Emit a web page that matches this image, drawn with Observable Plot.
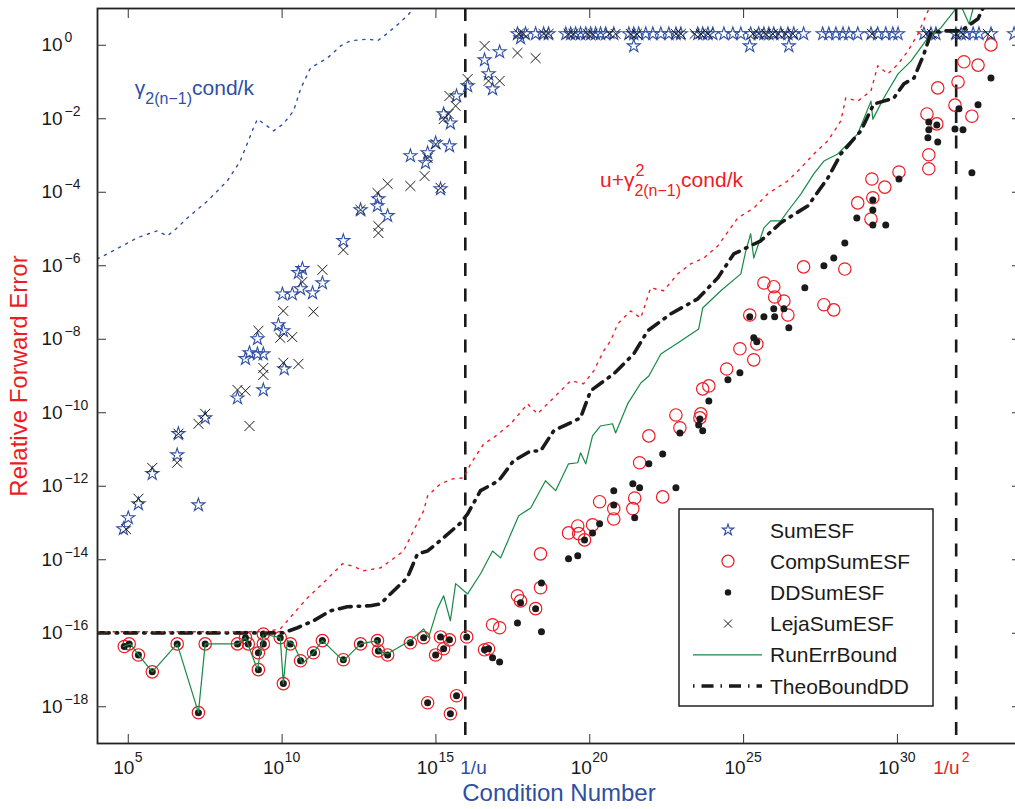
<!DOCTYPE html>
<html>
<head>
<meta charset="utf-8">
<script src="https://cdn.jsdelivr.net/npm/d3@7"></script>
<script src="https://cdn.jsdelivr.net/npm/@observablehq/plot@0.6"></script>
<style>
  body { margin: 0; background: #fff; }
  #wrap { position: relative; width: 1015px; height: 809px; overflow: hidden; background: #fff; }
</style>
</head>
<body>
<div id="wrap"></div>
<script>
const FONT = "'Liberation Sans', Arial, Helvetica, sans-serif";
const RED = "#ed1c24", BLUE = "#2f4fa3", GREEN = "#168a46", BLACK = "#1a1a1a";

// All values are [log10(condition number), log10(relative forward error)]
const sumESF = [
  [5.00,-12.86],[4.84,-13.16],[5.33,-12.48],[7.28,-12.51],[5.78,-11.66],[6.59,-11.15],[6.63,-10.57],[7.50,-10.14],
  [8.55,-9.60],[8.81,-8.53],[8.94,-8.37],[9.20,-7.99],[9.20,-8.40],[9.39,-8.40],[9.39,-9.38],[9.88,-7.61],
  [10.04,-7.77],[10.07,-8.81],[10.01,-6.77],[10.33,-6.77],[10.53,-6.19],[10.66,-6.08],[11.31,-6.47],[10.99,-6.74],
  [10.60,-6.63],[11.99,-5.32],[12.55,-4.48],[13.13,-4.18],[13.10,-4.37],[13.43,-4.64],[14.17,-3.01],[14.73,-2.93],
  [14.66,-3.20],[14.99,-2.66],[15.44,-2.74],[15.15,-3.91],[15.25,-1.87],[15.47,-2.12],[15.67,-1.38],[16.03,-1.11],
  [16.58,-0.40],[16.71,-0.78],[16.84,-1.19],[17.07,-0.18],[17.65,0.31],[17.75,0.20],[18.24,0.31],
  [17.91,0.31],[18.50,0.31],[18.66,0.31],[19.22,0.31],[19.38,0.31],[19.54,0.31],[19.70,0.31],[19.87,0.31],
  [20.03,0.31],[20.19,0.31],[20.35,0.31],[20.52,0.31],[20.78,0.31],[21.27,0.31],[21.43,0.31],[21.59,0.31],
  [21.82,0.31],[22.05,0.31],[22.31,0.31],[22.57,0.31],[22.80,0.31],[22.96,0.31],[23.51,0.31],[23.67,0.31],
  [23.84,0.31],[24.00,0.31],[24.36,0.31],[24.65,0.31],[24.91,0.31],[25.23,0.31],[25.49,0.31],[25.66,0.31],
  [25.82,0.31],[25.98,0.31],[26.21,0.31],[26.44,0.31],[26.63,0.31],[26.95,0.31],[27.57,0.31],[27.77,0.31],
  [28.00,0.31],[28.23,0.31],[28.42,0.31],[28.71,0.31],[29.14,0.31],[29.36,0.31],[29.62,0.31],[29.85,0.31],
  [30.02,0.31],[30.86,0.31],[31.09,0.31],[31.25,0.31],[31.90,0.31],[32.07,0.31],[32.23,0.31],[32.46,0.31],
  [32.65,0.31],[33.04,0.31],[33.79,0.31],
  [21.43,-0.02],[25.20,-0.02],[26.47,-0.02]
];

const compSumESF = [
  [4.87,-16.36],[5.03,-16.29],[5.33,-16.59],[5.78,-17.05],[6.59,-16.29],[7.28,-18.16],[7.50,-16.29],[8.55,-16.29],
  [8.81,-16.12],[8.90,-16.29],[9.23,-16.53],[9.23,-16.99],[9.39,-16.02],[9.39,-16.29],[9.94,-16.12],[10.04,-17.37],
  [10.27,-16.29],[10.60,-16.75],[11.02,-16.53],[11.31,-16.20],[11.99,-16.72],[12.55,-16.29],[13.10,-16.20],[13.13,-16.48],
  [13.43,-16.59],[14.17,-16.26],[14.60,-16.12],[14.73,-17.89],[15.15,-16.10],[15.44,-16.18],[15.25,-16.42],[14.99,-16.59],
  [15.67,-17.70],[15.47,-18.19],[16.00,-16.10],[16.58,-16.45],[16.71,-16.42],[16.84,-15.77],[17.07,-15.85],[17.65,-14.98],
  [17.75,-15.12],[18.24,-15.33],[18.40,-13.84],[18.40,-14.76],[19.31,-13.27],[19.61,-13.08],[19.64,-13.29],[19.83,-13.46],
  [20.09,-13.05],[20.78,-12.89],[20.78,-12.61],[21.40,-12.61],[20.32,-12.42],[21.46,-12.32],[22.37,-12.29],[21.62,-11.36],
  [21.92,-10.63],[22.80,-10.06],[22.93,-10.41],[23.61,-10.03],[23.58,-10.14],[23.67,-9.35],[23.87,-9.27],[24.45,-8.81],
  [24.88,-8.26],[25.33,-8.56],[25.43,-8.13],[25.20,-7.34],[25.66,-6.47],[25.98,-6.57],[26.01,-6.85],[26.31,-6.96],
  [26.44,-7.34],[26.95,-6.03],[28.29,-6.09],[27.61,-7.06],[27.93,-7.20],[28.71,-4.29],[29.17,-3.64],[29.59,-3.86],
  [30.05,-3.45],[29.20,-4.15],[29.14,-4.73],[30.96,-1.87],[31.28,-2.14],[31.02,-2.98],[31.02,-3.36],[31.31,-1.16],
  [31.97,-1.00],[31.87,-1.63],[32.16,-0.45],[32.62,-0.54],[32.42,-1.93],[33.04,0.01]
];

const ddSumESF = [
  [4.87,-16.36],[5.03,-16.29],[5.33,-16.59],[5.78,-17.05],[6.59,-16.29],[7.28,-18.16],[7.50,-16.29],[8.55,-16.29],
  [8.81,-16.12],[8.90,-16.29],[9.23,-16.53],[9.23,-16.99],[9.39,-16.02],[9.39,-16.29],[9.94,-16.12],[10.04,-17.37],
  [10.27,-16.29],[10.60,-16.75],[11.02,-16.53],[11.31,-16.20],[11.99,-16.72],[12.55,-16.29],[13.10,-16.20],[13.13,-16.48],
  [13.43,-16.59],[14.17,-16.26],[14.60,-16.12],[14.73,-17.89],[15.15,-16.10],[15.44,-16.18],[15.25,-16.42],[14.99,-16.59],
  [15.67,-17.70],[15.47,-18.19],[16.00,-16.10],[16.58,-16.45],[16.71,-16.42],
  [16.84,-16.67],[17.07,-16.78],[17.75,-15.17],[17.65,-15.72],[18.24,-15.33],[18.43,-14.63],[18.43,-15.96],[19.31,-13.97],
  [19.61,-13.89],[19.83,-13.46],[20.09,-13.27],[20.32,-13.02],[20.78,-12.51],[21.46,-12.86],[20.78,-12.12],[21.40,-11.93],
  [21.62,-12.04],[22.80,-12.04],[21.92,-11.39],[22.37,-11.12],[22.93,-10.55],[23.54,-10.33],[23.67,-10.49],[23.58,-10.17],
  [23.87,-9.68],[24.49,-9.10],[24.88,-8.91],[25.33,-7.96],[25.43,-8.07],[25.20,-7.39],[25.66,-7.39],[25.98,-7.17],
  [26.01,-7.39],[26.31,-7.17],[26.47,-7.69],[26.99,-6.60],[27.61,-6.00],[27.93,-5.79],[28.29,-5.38],[28.68,-4.70],
  [29.20,-4.21],[29.20,-4.48],[29.20,-4.89],[29.62,-4.89],[30.05,-3.64],[31.02,-2.09],[31.28,-2.17],[31.02,-2.30],
  [30.99,-2.52],[31.31,-2.63],[32.00,-1.73],[31.87,-2.28],[32.13,-2.30],[32.62,-1.62],[33.04,-0.89],[32.42,-3.47]
];

const lejaSumESF = [
  [4.93,-13.17],[5.33,-12.34],[5.78,-11.50],[6.59,-11.36],[6.63,-10.57],[7.28,-10.30],[7.50,-10.03],[8.55,-9.38],
  [8.81,-9.40],[8.94,-10.36],[9.23,-7.77],[9.39,-8.78],[9.39,-8.97],[10.04,-7.23],[9.94,-7.96],[10.33,-7.94],
  [10.04,-8.64],[10.53,-8.67],[11.31,-6.11],[10.66,-6.44],[11.02,-7.25],[11.99,-5.57],[13.13,-4.92],[13.13,-5.11],
  [13.10,-4.02],[13.43,-3.77],[12.55,-4.48],[14.17,-3.83],[14.63,-3.56],[14.73,-3.07],[14.99,-2.69],[15.15,-3.88],
  [15.25,-2.01],[15.41,-1.87],[15.64,-1.65],[15.44,-1.38],[16.03,-0.92],[16.58,-0.02],[16.71,-0.97],[17.07,-0.97],
  [17.65,-0.21],[18.24,-0.35],
  [17.69,0.31],[17.85,0.31],[18.50,0.31],[18.66,0.31],[19.31,0.31],[19.47,0.31],[19.93,0.31],[20.09,0.31],
  [20.64,0.31],[20.84,0.31],[21.33,0.31],[21.53,0.31],[22.80,0.31],[22.96,0.31],[23.41,0.31],[23.61,0.31],
  [23.84,0.31],[25.30,0.31],[25.49,0.31],[25.72,0.31],[25.95,0.31],[26.14,0.31],[26.37,0.31],[26.60,0.31],
  [29.17,0.31],[30.93,0.31],[31.12,0.31],[31.90,0.31],[32.13,0.31],[32.94,0.31]
];

const runErrBound = [
  [4.84,-16.36],[5.07,-16.29],[5.33,-16.59],[5.78,-17.05],[6.59,-16.29],[7.28,-18.16],[7.50,-16.29],[8.55,-16.29],
  [8.81,-16.12],[9.20,-16.99],[9.39,-16.02],[9.94,-16.12],[10.04,-17.37],[10.17,-16.20],[10.37,-16.29],[10.66,-16.83],
  [11.02,-16.53],[11.31,-16.20],[11.99,-16.75],[12.55,-16.29],[13.10,-16.20],[13.13,-16.48],[13.43,-16.56],[14.17,-16.20],
  [14.60,-15.88],[14.76,-16.12],[15.05,-15.33],[15.25,-14.98],[15.47,-15.66],[15.64,-14.65],[16.03,-14.93],[16.45,-14.38],
  [16.84,-13.76],[17.10,-13.95],[17.69,-12.80],[18.08,-12.59],[18.56,-11.85],[18.89,-12.12],[19.31,-11.39],[19.61,-11.36],
  [19.70,-11.09],[19.87,-11.39],[20.09,-10.63],[20.35,-10.36],[20.74,-10.30],[20.84,-10.55],[21.23,-9.76],[21.66,-9.19],
  [21.92,-9.00],[22.31,-8.40],[22.86,-8.10],[23.54,-7.72],[23.67,-7.15],[24.26,-6.68],[24.91,-6.22],[25.07,-5.60],
  [25.23,-5.13],[25.33,-5.79],[25.66,-4.97],[25.88,-4.78],[26.21,-4.78],[26.44,-4.51],[26.86,-4.05],[27.28,-3.50],
  [27.61,-3.15],[28.06,-2.96],[28.71,-2.41],[29.14,-1.52],[29.20,-2.01],[29.56,-1.43],[30.02,-0.78],[30.44,-0.43],
  [30.99,0.20],[31.41,0.47],[31.84,0.93],[31.97,1.25],[32.33,0.58],[32.55,1.30]
];

const theoBoundDD = [
  [3.99,-15.99],[10.04,-15.99],[10.50,-15.85],[11.02,-15.66],[11.57,-15.39],[12.12,-15.28],[12.87,-15.25],[13.20,-15.20],
  [13.52,-14.93],[14.07,-14.49],[14.40,-13.84],[14.73,-13.76],[15.25,-13.40],[15.80,-13.00],[16.03,-12.75],[16.45,-12.12],
  [17.04,-11.85],[17.52,-11.31],[18.08,-11.04],[18.40,-11.04],[18.83,-10.49],[19.70,-10.14],[20.03,-9.40],[20.78,-8.94],
  [21.43,-8.40],[21.88,-7.77],[22.63,-7.31],[23.51,-6.90],[24.16,-6.33],[24.68,-5.68],[25.56,-5.32],[26.21,-4.83],
  [27.09,-4.37],[27.74,-3.61],[28.16,-2.96],[28.81,-2.33],[29.23,-1.60],[29.88,-1.44],[30.21,-1.05],[30.54,-0.89],
  [30.86,-0.24],[31.09,0.33],[31.51,0.39],[32.07,0.39],[32.62,0.72],[32.78,1.01],[33.00,1.40]
];

// u + gamma_{2(n-1)}^2 cond/k  (red dotted)
const gamma2Bound = [
  [3.99,-15.96],[9.46,-15.96],[9.94,-15.88],[10.37,-15.47],[10.82,-15.04],[11.34,-14.63],[11.96,-14.11],[12.29,-14.17],
  [12.64,-14.30],[13.20,-14.22],[13.52,-14.03],[13.95,-13.76],[14.27,-13.21],[14.60,-12.67],[14.73,-12.26],[15.15,-11.93],
  [15.54,-11.80],[15.90,-11.77],[16.13,-11.39],[16.55,-10.85],[16.87,-10.68],[17.43,-10.30],[17.98,-9.76],[18.30,-10.03],
  [18.83,-9.59],[19.38,-9.13],[19.80,-9.21],[20.13,-8.86],[20.45,-8.32],[20.68,-8.04],[20.91,-7.58],[21.33,-7.23],
  [21.66,-7.42],[21.98,-6.60],[22.40,-6.68],[22.86,-6.22],[23.28,-5.95],[23.71,-5.79],[24.16,-5.46],[24.81,-4.70],
  [25.33,-4.43],[25.79,-4.04],[26.44,-3.69],[26.86,-3.34],[27.28,-2.96],[27.74,-2.60],[28.16,-2.06],[28.32,-1.43],
  [28.71,-1.52],[29.14,-1.24],[29.36,-0.56],[29.69,-0.78],[30.02,-0.51],[30.34,-0.16],[30.67,0.31],[30.99,0.93],[31.25,1.34]
];

// gamma_{2(n-1)} cond/k  (blue dotted)
const gammaBound = [
  [3.99,-5.81],[4.09,-5.78],[5.29,-5.24],[5.94,-5.05],[6.27,-5.19],[6.59,-4.97],[6.92,-4.70],[7.57,-4.24],
  [8.22,-3.69],[8.64,-3.15],[9.07,-2.25],[9.20,-2.01],[9.52,-2.20],[9.72,-2.33],[10.04,-2.14],[10.37,-1.79],
  [10.60,-1.19],[10.92,-0.62],[11.47,-0.35],[11.90,-0.02],[12.22,0.12],[12.81,0.17],[13.10,0.12],[13.43,0.33],
  [13.78,0.58],[14.07,0.80],[14.33,1.07],[14.50,1.40]
];

const xTicks = [1e5, 1e10, 1e15, 1e20, 1e25, 1e30];
const yTicks = [1e0, 1e-2, 1e-4, 1e-6, 1e-8, 1e-10, 1e-12, 1e-14, 1e-16, 1e-18];
const invU = 2 ** 53;      // 1/u
const invU2 = 2 ** 106;    // 1/u^2
const refLines = [invU, invU2];
const legendNames = ["SumESF", "CompSumESF", "DDSumESF", "LejaSumESF", "RunErrBound", "TheoBoundDD"];
const gammaLabelAt = [5.23, -1.38];
const gamma2LabelAt = [20.35, -3.88];

const rows = arr => arr.map(([c, e]) => ({cond: 10 ** c, err: 10 ** e}));
const expText = d => { const e = Math.round(Math.log10(d)); return (e < 0 ? "\u2212" : "") + Math.abs(e); };
const xTicks1 = xTicks.filter(d => String(Math.round(Math.log10(d))).length === 1);
const xTicks2 = xTicks.filter(d => String(Math.round(Math.log10(d))).length === 2);

const xy = {x: "cond", y: "err"};
const tickFont = 19, expFont = 14;
const DOTTED = "2.2,5.8";
const mid = {lineAnchor: "middle"};

const chart = Plot.plot({
  width: 1015, height: 809,
  marginLeft: 97, marginRight: -5, marginTop: 8, marginBottom: 66,
  x: {type: "log", domain: [1e4, 1e34]},
  y: {type: "log", domain: [1e-19, 1e1]},
  style: {fontFamily: FONT, background: "white"},
  marks: [
    Plot.ruleX(refLines, {stroke: BLACK, strokeWidth: 2.6, strokeDasharray: "13,12.5"}),
    Plot.dot(rows(sumESF), {...xy, symbol: "star", r: 4.1, stroke: BLUE, strokeWidth: 1.1, fill: "none", clip: true}),
    Plot.dot(rows(compSumESF), {...xy, r: 6.2, stroke: RED, strokeWidth: 1.2, fill: "none", clip: true}),
    Plot.dot(rows(ddSumESF), {...xy, r: 3.5, fill: BLACK, stroke: "none", clip: true}),
    Plot.dot(rows(lejaSumESF), {...xy, symbol: "times", r: 4.6, stroke: BLACK, strokeWidth: 1, clip: true}),
    Plot.line(rows(runErrBound), {...xy, stroke: GREEN, strokeWidth: 1.2, clip: true}),
    Plot.line(rows(theoBoundDD), {...xy, stroke: BLACK, strokeWidth: 3.6, strokeDasharray: "12,7,1.5,7", clip: true}),
    Plot.line(rows(gamma2Bound), {...xy, stroke: RED, strokeWidth: 1.4, strokeDasharray: DOTTED, clip: true}),
    Plot.line(rows(gammaBound), {...xy, stroke: BLUE, strokeWidth: 1.4, strokeDasharray: DOTTED, clip: true}),
    Plot.frame({stroke: "#222", strokeWidth: 1.8}),
    Plot.axisX({ticks: xTicks, anchor: "bottom", tickSize: -9, tickFormat: () => "", label: null, stroke: "#333"}),
    Plot.axisX({ticks: xTicks, anchor: "top", tickSize: -9, tickFormat: () => "", label: null, stroke: "#333"}),
    Plot.axisY({ticks: yTicks, anchor: "left", tickSize: -9, tickFormat: () => "", label: null, stroke: "#333"}),
    Plot.axisY({ticks: yTicks, anchor: "right", tickSize: -9, tickFormat: () => "", label: null, stroke: "#333"}),
    // y tick labels 10^k
    Plot.text(yTicks, {y: d => d, frameAnchor: "left", text: () => "10", textAnchor: "start", ...mid, dx: -56, fontSize: tickFont, fill: BLACK}),
    Plot.text(yTicks, {y: d => d, frameAnchor: "left", text: expText, textAnchor: "start", ...mid, dx: -33, dy: -7.5, fontSize: expFont, fill: BLACK}),
    // x tick labels 10^k
    Plot.text(xTicks1, {x: d => d, frameAnchor: "bottom", text: () => "10", textAnchor: "end", ...mid, dx: 6, dy: 24.5, fontSize: tickFont, fill: BLACK}),
    Plot.text(xTicks1, {x: d => d, frameAnchor: "bottom", text: expText, textAnchor: "start", ...mid, dx: 6.5, dy: 14, fontSize: expFont, fill: BLACK}),
    Plot.text(xTicks2, {x: d => d, frameAnchor: "bottom", text: () => "10", textAnchor: "end", ...mid, dx: 2, dy: 24.5, fontSize: tickFont, fill: BLACK}),
    Plot.text(xTicks2, {x: d => d, frameAnchor: "bottom", text: expText, textAnchor: "start", ...mid, dx: 2.5, dy: 14, fontSize: expFont, fill: BLACK}),
    // 1/u and 1/u^2 labels
    Plot.text([invU], {x: d => d, frameAnchor: "bottom", text: () => "1/u", textAnchor: "start", ...mid, dx: -5, dy: 24.5, fontSize: tickFont, fill: BLUE}),
    Plot.text([invU2], {x: d => d, frameAnchor: "bottom", text: () => "1/u", textAnchor: "start", ...mid, dx: -23, dy: 24.5, fontSize: tickFont, fill: RED}),
    Plot.text([invU2], {x: d => d, frameAnchor: "bottom", text: () => "2", textAnchor: "start", ...mid, dx: 5.5, dy: 14, fontSize: expFont, fill: RED}),
    // axis titles
    Plot.text(["Condition Number"], {frameAnchor: "bottom", textAnchor: "middle", ...mid, dy: 49.5, fontSize: 24, fill: BLUE}),
    Plot.text(["Relative Forward Error"], {frameAnchor: "left", textAnchor: "middle", ...mid, dx: -78, rotate: -90, fontSize: 24, fill: RED})
  ]
});

document.getElementById("wrap").appendChild(chart);

// curve annotations with sub/superscripts, placed through the plot's scales
const svg = d3.select(chart);
const sx = chart.scale("x"), sy = chart.scale("y");
const t1 = svg.append("text")
  .attr("x", sx.apply(10 ** gammaLabelAt[0])).attr("y", sy.apply(10 ** gammaLabelAt[1]))
  .attr("text-anchor", "start")
  .attr("fill", BLUE).attr("font-size", 21).attr("font-family", FONT);
t1.append("tspan").text("\u03b3");
t1.append("tspan").attr("font-size", 16).attr("dy", 9).text("2(n\u22121)");
t1.append("tspan").attr("dy", -9).text("cond/k");

const t2 = svg.append("text")
  .attr("x", sx.apply(10 ** gamma2LabelAt[0])).attr("y", sy.apply(10 ** gamma2LabelAt[1]))
  .attr("text-anchor", "start")
  .attr("fill", RED).attr("font-size", 21).attr("font-family", FONT);
t2.append("tspan").text("u+\u03b3");
t2.append("tspan").attr("font-size", 16).attr("dx", 1).attr("dy", -11).text("2");
t2.append("tspan").attr("font-size", 16).attr("dx", -10).attr("dy", 20).text("2(n\u22121)");
t2.append("tspan").attr("dy", -9).text("cond/k");

// legend box
const leg = d3.select("#wrap").append("svg")
  .attr("width", 258).attr("height", 200)
  .style("position", "absolute").style("left", "678px").style("top", "508px");
leg.append("rect").attr("x", 1).attr("y", 1).attr("width", 254).attr("height", 197)
  .attr("fill", "white").attr("stroke", "#222").attr("stroke-width", 1.5);
const symX = 50, txtX = 92;
legendNames.forEach((name, i) => {
  const cy = 22 + i * 31.2;
  if (i === 0) {
    leg.append("path").attr("d", d3.symbol(d3.symbolStar, 40)()).attr("transform", `translate(${symX},${cy})`)
      .attr("fill", "none").attr("stroke", BLUE).attr("stroke-width", 1.1);
  } else if (i === 1) {
    leg.append("circle").attr("cx", symX).attr("cy", cy).attr("r", 6).attr("fill", "none").attr("stroke", RED).attr("stroke-width", 1.2);
  } else if (i === 2) {
    leg.append("circle").attr("cx", symX).attr("cy", cy).attr("r", 3.2).attr("fill", BLACK);
  } else if (i === 3) {
    leg.append("path").attr("d", `M${symX-4},${cy-4}L${symX+4},${cy+4}M${symX-4},${cy+4}L${symX+4},${cy-4}`)
      .attr("stroke", BLACK).attr("stroke-width", 1);
  } else if (i === 4) {
    leg.append("line").attr("x1", 15).attr("x2", 84).attr("y1", cy).attr("y2", cy).attr("stroke", GREEN).attr("stroke-width", 1.2);
  } else {
    leg.append("line").attr("x1", 15).attr("x2", 84).attr("y1", cy).attr("y2", cy).attr("stroke", BLACK)
      .attr("stroke-width", 3.6).attr("stroke-dasharray", "1.5,7,12,7");
  }
  leg.append("text").attr("x", txtX).attr("y", cy).attr("dy", "0.36em").attr("font-size", 21)
    .attr("font-family", FONT).attr("fill", BLACK).text(name);
});
</script>
</body>
</html>
